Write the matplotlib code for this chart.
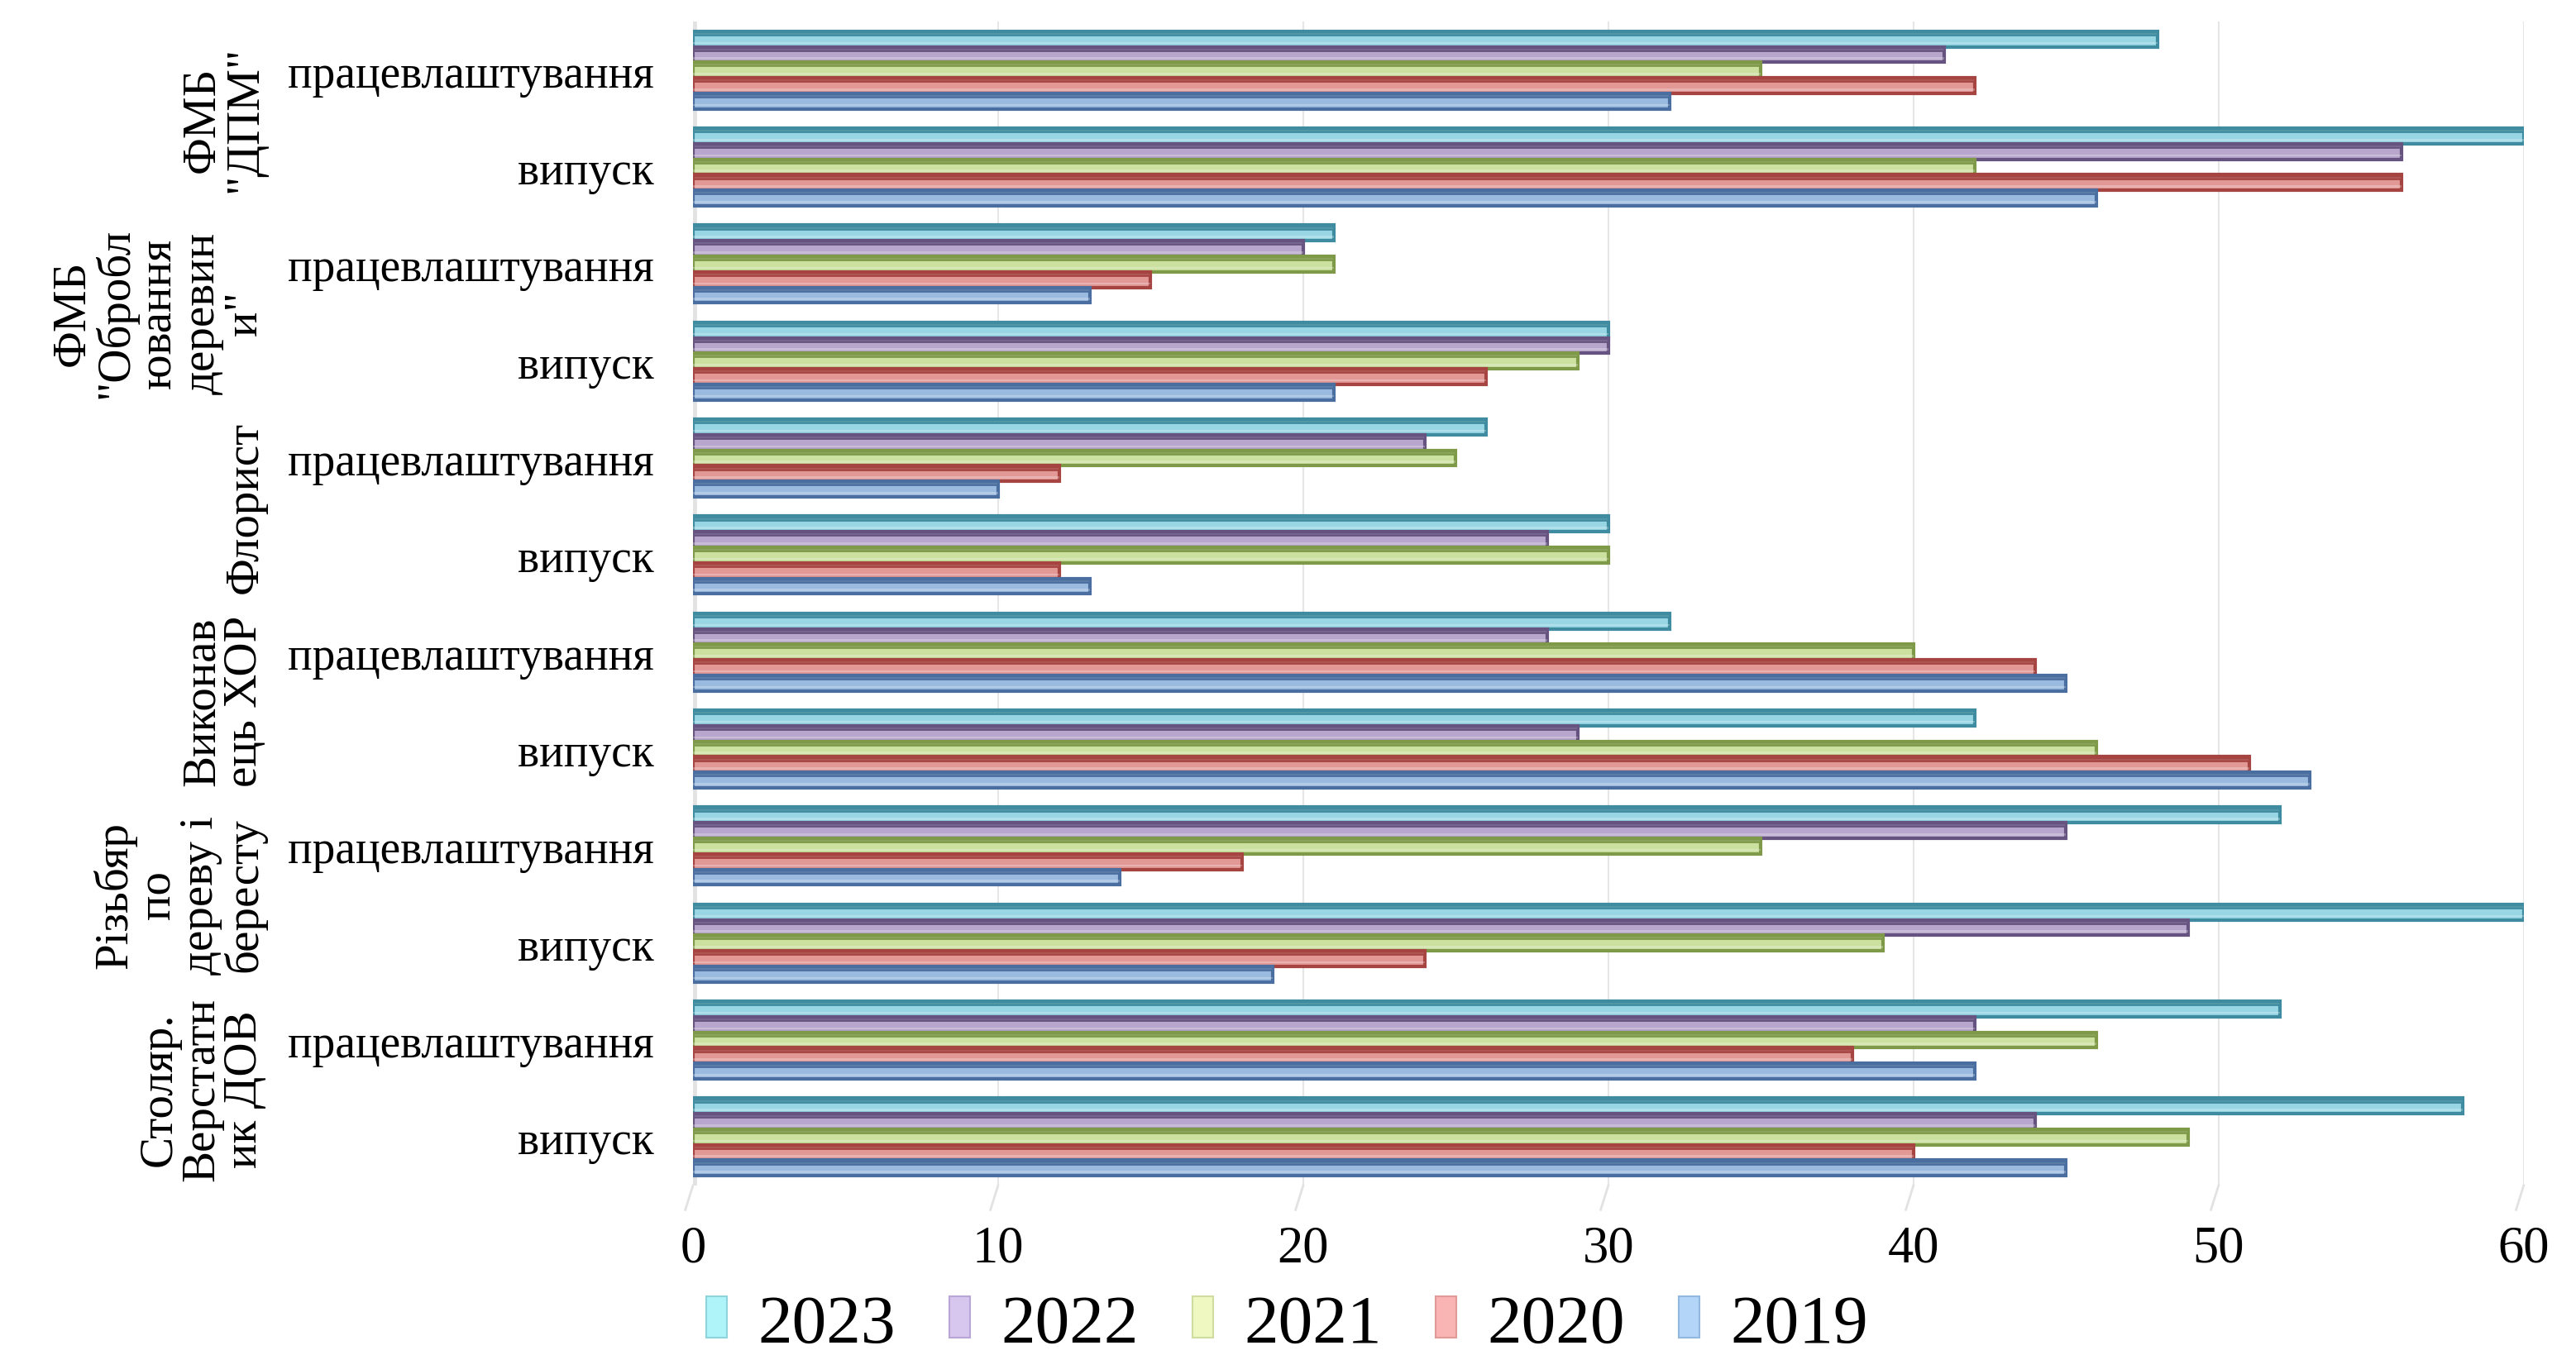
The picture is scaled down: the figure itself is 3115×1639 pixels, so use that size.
import matplotlib
matplotlib.use("Agg")
import matplotlib.pyplot as plt
import matplotlib.transforms as mtransforms
from matplotlib.patches import Patch
import numpy as np

plt.rcParams['font.family'] = ['Liberation Serif', 'DejaVu Serif']

# rows from top to bottom
row_labels = ["працевлаштування", "випуск"] * 6
groups = ["ФМБ\n\"ДПМ\"", "ФМБ\n\"Обробл\nювання\nдеревин\nи\"", "Флорист",
          "Виконав\nець ХОР", "Різьбяр\nпо\nдереву і\nбересту", "Столяр.\nВерстатн\nик ДОВ"]
years = ["2023", "2022", "2021", "2020", "2019"]

v2023 = [48, 60, 21, 30, 26, 30, 32, 42, 52, 60, 52, 58]
v2022 = [41, 56, 20, 30, 24, 28, 28, 29, 45, 49, 42, 44]
v2021 = [35, 42, 21, 29, 25, 30, 40, 46, 35, 39, 46, 49]
v2020 = [42, 56, 15, 26, 12, 12, 44, 51, 18, 24, 38, 40]
v2019 = [32, 46, 13, 21, 10, 13, 45, 53, 14, 19, 42, 45]
series = [v2023, v2022, v2021, v2020, v2019]

fill_cols = ["#98D6E4", "#B8A6CD", "#CCE0A0", "#E29996", "#9BBAE0"]
edge_cols = ["#3F8BA0", "#66537F", "#7E9A48", "#A64442", "#4A6EA0"]
legend_cols = ["#AEF4F8", "#D7C6EE", "#EEF8C0", "#F8B5B3", "#B3D5F8"]
legend_edges = ["#8FD3DC", "#B9A6D6", "#CFDDA0", "#E09A98", "#93B8E0"]

fig = plt.figure(figsize=(31.15, 16.4), dpi=100)
ax = fig.add_axes([0.269, 0.125, 0.7107, 0.8585])

n = len(row_labels)
ypos = np.arange(n)[::-1].astype(float)
bh = 0.16
for i, (vals, fc, ec) in enumerate(zip(series, fill_cols, edge_cols)):
    yc = ypos + 0.4 - bh * (i + 0.5)
    ax.barh(yc, vals, height=bh, color=fc, edgecolor=ec, linewidth=3.0, zorder=3)
    # lighter band and highlight strip for pseudo-3D look
    ax.barh(yc - bh * 0.25, vals, height=bh * 0.14, color="white", alpha=0.25,
            linewidth=0, zorder=4)
    ax.barh(yc + bh * 0.36, vals, height=bh * 0.16, color="#F0F0F0",
            edgecolor=ec, linewidth=2.0, zorder=4)

ax.set_xlim(0, 60)
ax.set_ylim(-0.5, n - 0.5)
ax.set_xticks(np.arange(0, 61, 10))
ax.set_yticks(ypos)
ax.set_yticklabels(row_labels, fontsize=40)
ax.tick_params(axis='y', length=0, pad=34)
ax.tick_params(axis='x', length=0, pad=34, labelsize=45)
ax.grid(axis='x', color="#E6E6E6", linewidth=1.5, zorder=0)
ax.set_axisbelow(True)
for s in ax.spines.values():
    s.set_visible(False)

# side wall and floor marks
ax.axvline(0, color="#E2E2E2", linewidth=7, zorder=1)
for t in ax.get_xticks():
    ax.plot([t - 0.25, t], [-0.75, -0.5], color="#E2E2E2", linewidth=2,
            clip_on=False, zorder=1)

# group labels
trans = mtransforms.blended_transform_factory(fig.transFigure, ax.transData)
for g, lab in enumerate(groups):
    yc = ypos[2 * g] - 0.5
    ax.text(0.1035, yc, lab, transform=trans, rotation=90, ha='right', va='center',
            multialignment='center', fontsize=41, linespacing=1.0)

handles = [Patch(facecolor=c, edgecolor=e, linewidth=1.5) for c, e in zip(legend_cols, legend_edges)]
fig.legend(handles, years, loc='center left', bbox_to_anchor=(0.274, 0.022),
           ncol=5, frameon=False, fontsize=60, handlelength=0.3, handleheight=0.55,
           handletextpad=0.45, columnspacing=0.78, borderpad=0, borderaxespad=0)

fig.savefig("out.png", dpi=100)
